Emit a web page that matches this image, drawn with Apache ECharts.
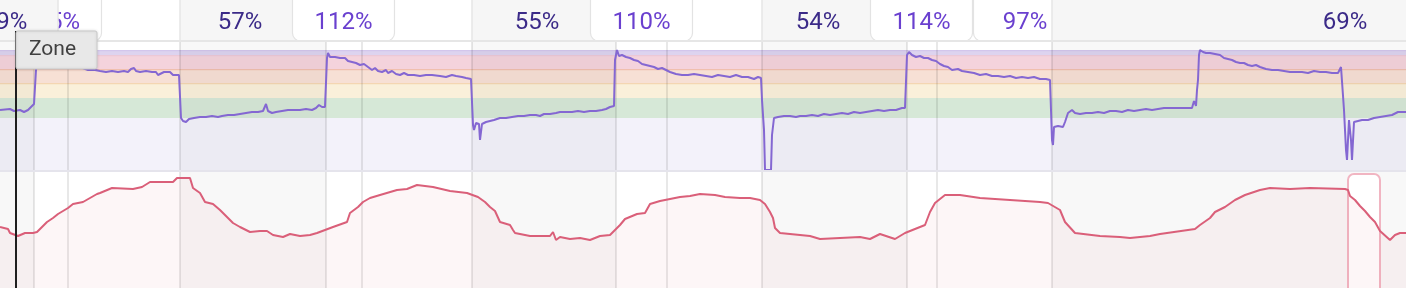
<!DOCTYPE html>
<html><head><meta charset="utf-8">
<script src="https://cdn.jsdelivr.net/npm/echarts@6/dist/echarts.min.js"></script>
<style>html,body{margin:0;padding:0;background:#fff;overflow:hidden}#c{width:1406px;height:288px}</style>
</head><body><div id="c"></div>
<script>
// ---- data (time in seconds, power in %FTP, heart rate in bpm) ----
const workoutEnd = 4218;
const headerStart = [0, -144, 540, 876, 1416, 1770, 2286, 2919, 2610, 3156];
const headerEnd   = [306, 174, 900, 1185, 1806, 2079, 2622, 3231, 2919, 4914];
const headerLabel = ['105%', '69%', '57%', '112%', '55%', '110%', '54%', '97%', '114%', '69%'];
const headerKind  = ['high', 'low', 'low', 'high', 'low', 'high', 'low', 'high', 'high', 'low'];
const intervalBounds = [102, 204, 540, 978, 1086, 1416, 1848, 2001, 2286, 2721, 2811, 3156];
const easyStart = [0, 540, 1416, 2286, 3156];
const easyEnd   = [102, 978, 1848, 2721, 4218];
const zoneLow  = [0, 52, 72, 87, 101, 115];
const zoneHigh = [52, 72, 87, 101, 115, 120];
const selectedLap = [4044, 4140];
const cursorTime = 48;
const tooltipText = 'Zone';

const powerData = [[0,60],[30,61],[42,59],[60,60],[72,58],[84,60],[93,63],[99,64],[102,66],[108,100],[114,113],[132,112],[156,109],[180,107],[210,105],[240,103],[264,100],[285,100],[300,99],[318,98],[336,99],[354,98],[372,99],[384,98],[393,101],[402,102],[408,99],[420,98],[438,99],[456,98],[468,98],[474,95],[480,97],[492,98],[510,98],[519,95],[537,95],[543,52],[549,49],[558,48],[567,51],[582,52],[600,53],[618,53],[636,54],[654,53],[666,54],[684,55],[702,55],[720,56],[738,57],[756,58],[774,58],[789,59],[798,66],[804,59],[816,57],[828,58],[846,59],[864,60],[882,60],[900,60],[918,61],[936,60],[948,62],[957,65],[966,63],[975,63],[981,112],[984,117],[990,113],[1005,113],[1020,112],[1035,112],[1044,109],[1056,108],[1068,107],[1080,105],[1092,106],[1104,103],[1116,100],[1125,102],[1134,99],[1146,98],[1158,100],[1164,97],[1176,99],[1188,96],[1200,95],[1212,97],[1224,95],[1242,95],[1260,94],[1278,95],[1296,95],[1320,94],[1338,93],[1356,95],[1368,94],[1386,93],[1398,92],[1413,91],[1416,90],[1419,45],[1422,40],[1428,47],[1437,46],[1440,30],[1446,46],[1458,48],[1470,49],[1482,50],[1500,52],[1518,52],[1536,53],[1554,54],[1572,54],[1590,55],[1608,55],[1620,54],[1632,56],[1650,56],[1668,57],[1680,58],[1698,58],[1716,58],[1734,59],[1752,58],[1770,59],[1788,59],[1806,60],[1818,61],[1830,63],[1842,64],[1845,110],[1851,120],[1857,114],[1866,115],[1878,113],[1890,112],[1902,110],[1914,109],[1926,106],[1938,105],[1950,104],[1962,103],[1974,101],[1986,102],[1998,100],[2010,98],[2028,96],[2046,95],[2064,95],[2082,96],[2100,95],[2118,94],[2136,93],[2154,95],[2172,94],[2190,93],[2208,95],[2226,93],[2244,93],[2262,91],[2274,93],[2283,92],[2286,70],[2292,40],[2295,0],[2313,0],[2316,35],[2322,52],[2334,53],[2352,54],[2370,54],[2388,53],[2400,54],[2418,54],[2436,55],[2454,54],[2472,56],[2490,55],[2508,56],[2526,57],[2544,56],[2562,58],[2580,57],[2598,58],[2616,59],[2634,60],[2652,59],[2670,60],[2688,60],[2706,62],[2715,62],[2721,115],[2727,118],[2736,115],[2748,113],[2760,114],[2772,112],[2784,112],[2796,110],[2808,109],[2820,106],[2832,104],[2844,103],[2856,100],[2874,101],[2886,99],[2904,98],[2922,97],[2940,95],[2958,96],[2976,94],[2994,94],[3012,93],[3030,94],[3048,92],[3066,93],[3084,92],[3102,93],[3120,91],[3138,91],[3150,90],[3153,60],[3156,30],[3159,25],[3162,43],[3174,44],[3189,43],[3195,48],[3204,57],[3216,60],[3225,57],[3240,56],[3258,57],[3276,57],[3294,58],[3312,57],[3330,59],[3348,59],[3366,58],[3384,60],[3402,59],[3420,60],[3438,61],[3456,60],[3474,61],[3492,62],[3510,62],[3528,62],[3546,62],[3564,62],[3576,62],[3582,69],[3588,64],[3591,80],[3594,90],[3597,115],[3600,120],[3609,118],[3618,117],[3630,117],[3645,116],[3660,115],[3672,112],[3684,111],[3696,110],[3708,108],[3720,107],[3732,107],[3744,105],[3756,104],[3768,105],[3780,103],[3798,101],[3816,100],[3834,100],[3852,99],[3870,98],[3888,98],[3906,98],[3924,97],[3942,99],[3960,98],[3978,98],[3996,97],[4014,97],[4023,103],[4026,102],[4032,60],[4038,20],[4041,10],[4047,50],[4053,30],[4056,10],[4062,48],[4074,49],[4086,50],[4104,50],[4122,52],[4140,53],[4158,54],[4176,55],[4194,58],[4212,58],[4218,58]];

const hrData = [[0,141],[24,139],[30,135],[54,132],[75,135],[99,135],[111,136],[126,141],[141,146],[159,150],[174,154],[189,157],[204,160],[219,164],[249,166],[270,170],[291,174],[300,175],[336,180],[399,179],[426,181],[450,186],[519,186],[531,190],[570,190],[579,180],[600,175],[615,166],[639,164],[660,158],[681,151],[699,145],[720,141],[750,136],[780,137],[801,137],[819,133],[849,131],[870,134],[900,132],[930,133],[951,135],[975,138],[999,141],[1041,146],[1050,155],[1074,161],[1089,166],[1110,170],[1140,173],[1191,178],[1221,179],[1251,183],[1299,181],[1350,177],[1401,175],[1434,171],[1455,166],[1470,161],[1485,157],[1500,146],[1530,143],[1539,138],[1545,135],[1590,132],[1650,132],[1659,136],[1668,128],[1680,131],[1710,129],[1740,130],[1770,128],[1800,132],[1830,133],[1860,143],[1875,149],[1911,154],[1935,155],[1950,164],[1980,167],[2010,169],[2040,171],[2070,172],[2100,174],[2145,173],[2175,171],[2220,170],[2250,170],[2280,168],[2295,164],[2310,156],[2319,150],[2325,140],[2340,135],[2430,132],[2460,129],[2580,131],[2610,129],[2640,134],[2685,129],[2715,135],[2775,143],[2790,156],[2805,165],[2835,173],[2880,173],[2940,170],[3075,167],[3120,166],[3144,165],[3180,158],[3195,146],[3225,135],[3300,132],[3360,131],[3390,130],[3450,132],[3480,134],[3585,139],[3600,143],[3630,150],[3645,156],[3675,161],[3705,168],[3735,173],[3780,178],[3810,180],[3870,179],[3930,180],[4035,179],[4044,178],[4050,172],[4065,168],[4080,162],[4095,157],[4110,151],[4125,146],[4140,137],[4170,128],[4185,133],[4200,135],[4218,135]];

// ---- styles ----
const zoneFill = ['#f3f2fa', '#d6e8d7', '#faf0da', '#f7e0d5', '#f4d3dc', '#ddd3ef'];
const zoneEdge = [null, null, '#f4d6b2', '#f0bfae', '#ecc8d6', '#d3c6ec'];
const FONT = 'Roboto, "Noto Sans", sans-serif';

const chart = echarts.init(document.getElementById('c'), null, {renderer: 'canvas'});

function xAxisCfg(gridIndex, extra) {
  return Object.assign({type: 'value', gridIndex, min: 0, max: workoutEnd, show: false}, extra || {});
}

function headerItem(params, api) {
  const cs = params.coordSys;
  const s = api.value(0), e = api.value(1), i = api.value(2);
  const x1 = api.coord([s, 0])[0], x2 = api.coord([e, 0])[0];
  const bottom = cs.y + cs.height;
  const high = headerKind[i] === 'high';
  const rect = high
    ? {type: 'rect', shape: {x: x1 + 0.5, y: cs.y - 12, width: x2 - x1 - 1, height: bottom - cs.y + 12, r: [0, 0, 8, 8]},
       style: {fill: '#ffffff', stroke: '#e3e3e3', lineWidth: 1.2}}
    : {type: 'rect', shape: {x: x1, y: cs.y - 2, width: x2 - x1, height: bottom - cs.y + 2},
       style: {fill: '#f6f6f6', stroke: '#e6e6e6', lineWidth: 1.5}};
  return {type: 'group', children: [rect, {
    type: 'text',
    style: {text: headerLabel[i], x: (x1 + x2) / 2, y: cs.y + 22.5, align: 'center', verticalAlign: 'middle',
            font: '24px ' + FONT, fill: high ? '#6a40cf' : '#3b2a88'}
  }]};
}

function zoneItem(params, api) {
  const cs = params.coordSys;
  const i = params.dataIndex;
  const top = api.coord([0, api.value(1)])[1];
  const bot = api.coord([0, api.value(0)])[1];
  const ch = [{type: 'rect', shape: {x: cs.x, y: top, width: cs.width, height: bot - top}, style: {fill: zoneFill[i]}}];
  if (zoneEdge[i]) ch.push({type: 'rect', shape: {x: cs.x, y: top, width: cs.width, height: 1.2}, style: {fill: zoneEdge[i]}});
  return {type: 'group', children: ch};
}

function columnItem(params, api) {
  const cs = params.coordSys;
  const x1 = api.coord([api.value(0), 0])[0], x2 = api.coord([api.value(1), 0])[0];
  return {type: 'rect', shape: {x: x1, y: cs.y, width: x2 - x1, height: cs.height}, style: {fill: 'rgba(0,0,0,0.027)'}};
}

function gridLineItem(params, api) {
  const cs = params.coordSys;
  const x = api.coord([api.value(0), 0])[0];
  return {type: 'rect', shape: {x: x - 1, y: cs.y, width: 2, height: cs.height}, style: {fill: 'rgba(0,0,0,0.09)'}};
}

function selectionItem(params, api) {
  const cs = params.coordSys;
  const x1 = api.coord([api.value(0), 0])[0], x2 = api.coord([api.value(1), 0])[0];
  return {type: 'rect', shape: {x: x1, y: cs.y + 3, width: x2 - x1, height: cs.height + 10, r: 6},
          style: {fill: '#ffffff', stroke: '#f1b5c2', lineWidth: 2}};
}

const easyCols = easyStart.map((s, i) => [s, easyEnd[i]]);
const bounds = intervalBounds.map(b => [b]);

chart.setOption({
  animation: false,
  backgroundColor: '#ffffff',
  grid: [
    {left: 0, right: 0, top: 0, height: 41},
    {left: 0, right: 0, top: 42, height: 128},
    {left: 0, right: 0, top: 171, height: 117}
  ],
  xAxis: [
    xAxisCfg(0, {show: true, position: 'bottom', z: 6, axisLine: {show: true, lineStyle: {color: '#e6e6e6', width: 2}},
      axisTick: {show: false}, axisLabel: {show: false}, splitLine: {show: false}}),
    xAxisCfg(1),
    xAxisCfg(2, {show: true, position: 'top', z: 6, axisLine: {show: true, lineStyle: {color: '#e5e4ec', width: 2}},
      axisTick: {show: false}, axisLabel: {show: false}, splitLine: {show: false}})
  ],
  yAxis: [
    {type: 'value', gridIndex: 0, min: 0, max: 1, show: false},
    {type: 'value', gridIndex: 1, min: 0, max: 128, show: false},
    {type: 'value', gridIndex: 2, min: 80, max: 197, show: false}
  ],
  series: [
    {type: 'custom', name: 'header', xAxisIndex: 0, yAxisIndex: 0, z: 3, silent: true,
     data: headerStart.map((s, i) => [s, headerEnd[i], i]), renderItem: headerItem},
    {type: 'custom', name: 'zones', xAxisIndex: 1, yAxisIndex: 1, z: 1, silent: true,
     data: zoneLow.map((l, i) => [l, zoneHigh[i]]), renderItem: zoneItem},
    {type: 'custom', name: 'powerCols', xAxisIndex: 1, yAxisIndex: 1, z: 2, silent: true,
     data: easyCols, renderItem: columnItem},
    {type: 'custom', name: 'powerLines', xAxisIndex: 1, yAxisIndex: 1, z: 3, silent: true,
     data: bounds, renderItem: gridLineItem},
    {type: 'line', name: 'Power', xAxisIndex: 1, yAxisIndex: 1, z: 5, data: powerData, showSymbol: false,
     lineStyle: {color: '#8467d2', width: 2}, itemStyle: {color: '#8467d2'}},
    {type: 'custom', name: 'hrCols', xAxisIndex: 2, yAxisIndex: 2, z: 2, silent: true,
     data: easyCols, renderItem: columnItem},
    {type: 'custom', name: 'hrLines', xAxisIndex: 2, yAxisIndex: 2, z: 3, silent: true,
     data: bounds, renderItem: gridLineItem},
    {type: 'custom', name: 'selected', xAxisIndex: 2, yAxisIndex: 2, z: 3, silent: true,
     data: [selectedLap], renderItem: selectionItem},
    {type: 'line', name: 'Heart rate', xAxisIndex: 2, yAxisIndex: 2, z: 5, data: hrData, showSymbol: false,
     lineStyle: {color: '#da5f79', width: 2}, itemStyle: {color: '#da5f79'},
     areaStyle: {color: 'rgba(218,95,121,0.085)', origin: 'start'}}
  ]
});

const cx = chart.convertToPixel({xAxisIndex: 1}, cursorTime);
chart.setOption({
  graphic: [
    {type: 'rect', z: 100, shape: {x: cx - 1, y: 31, width: 2, height: 257}, style: {fill: '#1f1f1f'}},
    {type: 'rect', z: 101, shape: {x: cx, y: 31, width: 81, height: 38, r: 2},
     style: {fill: '#e8e8e8', stroke: '#c9c9c9', lineWidth: 1, shadowBlur: 3, shadowColor: 'rgba(0,0,0,0.12)'}},
    {type: 'text', z: 102, style: {text: tooltipText, x: cx + 13, y: 50, verticalAlign: 'middle',
     font: '21px ' + FONT, fill: '#404040'}}
  ]
});
</script>
</body></html>
